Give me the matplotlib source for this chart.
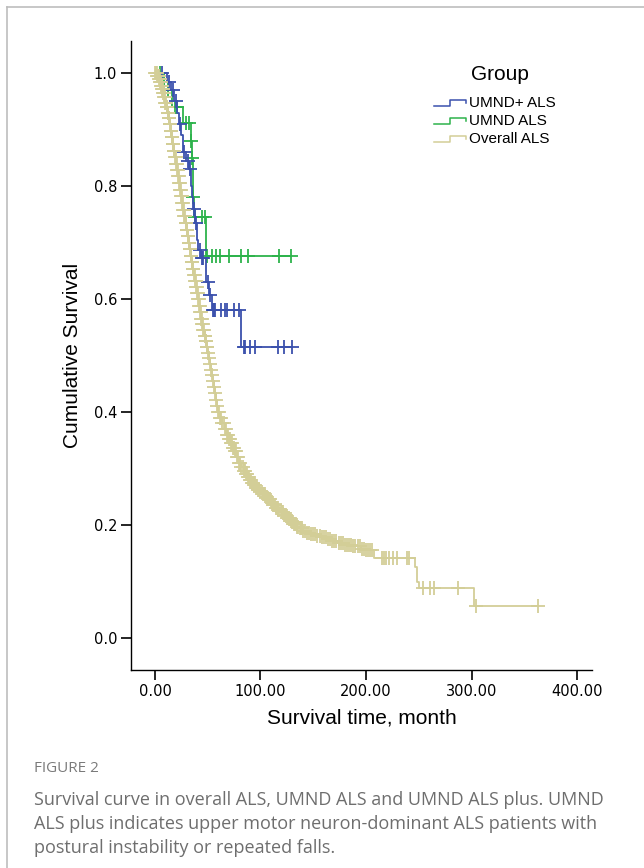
import numpy as np
import matplotlib.pyplot as plt
from matplotlib.lines import Line2D
from matplotlib.legend_handler import HandlerBase

# Kaplan-Meier steps (time in months, cumulative survival)
umnd_plus_t = [0, 11, 15, 18, 21, 23, 25, 27, 29, 32, 34, 35, 36, 38, 40, 41, 44, 48, 51, 54, 82]
umnd_plus_s = [1.0, 0.985, 0.97, 0.95, 0.93, 0.91, 0.89, 0.86, 0.845, 0.83, 0.80, 0.78, 0.76,
               0.735, 0.705, 0.687, 0.672, 0.63, 0.607, 0.58, 0.515]
umnd_plus_cens = [7, 13, 17, 20, 24, 28, 31, 33, 37, 39, 43, 45, 46, 50, 52, 55, 56, 57, 63,
                  66, 68, 75, 80, 84, 85, 90, 95, 117, 122, 130]

umnd_t = [0, 9, 16, 27, 34, 35, 36, 37, 48]
umnd_s = [1.0, 0.97, 0.94, 0.912, 0.88, 0.85, 0.78, 0.745, 0.676]
umnd_cens = [5, 12, 19, 21, 29, 32, 34, 35, 36, 38, 45, 47, 49, 54, 58, 62, 70, 82, 88, 118, 129]

overall_t = [0, 2, 4, 5, 6, 7, 8, 9, 10, 11, 12, 13, 14, 15, 16, 17, 18, 19, 20, 21, 22, 23,
             24, 25, 26, 27, 28, 29, 30, 31, 32, 33, 34, 35, 36, 37, 38, 39, 40, 41, 42, 43,
             44, 45, 46, 47, 48, 49, 50, 51, 52, 53, 54, 55, 56, 57, 58, 59, 60, 62, 64, 66,
             68, 70, 72, 74, 76, 78, 80, 82, 84, 86, 88, 90, 92, 94, 96, 98, 100, 102, 105,
             107, 110, 112, 115, 117, 120, 122, 125, 127, 130, 132, 135, 137, 140, 144, 148,
             153, 158, 163, 168, 174, 180, 187, 195, 200, 208, 246, 248, 250, 302]
overall_s = [1.0, 0.995, 0.99, 0.985, 0.978, 0.972, 0.965, 0.957, 0.948, 0.94, 0.93, 0.92,
             0.91, 0.898, 0.887, 0.875, 0.863, 0.852, 0.84, 0.828, 0.817, 0.805, 0.793, 0.782,
             0.77, 0.758, 0.747, 0.735, 0.723, 0.712, 0.70, 0.688, 0.677, 0.665, 0.654, 0.643,
             0.632, 0.621, 0.61, 0.60, 0.588, 0.577, 0.565, 0.555, 0.545, 0.535, 0.525, 0.515,
             0.505, 0.495, 0.485, 0.475, 0.465, 0.455, 0.445, 0.434, 0.422, 0.411, 0.40, 0.39,
             0.38, 0.37, 0.36, 0.352, 0.345, 0.337, 0.33, 0.32, 0.31, 0.302, 0.295, 0.29, 0.285,
             0.28, 0.275, 0.27, 0.265, 0.261, 0.258, 0.255, 0.25, 0.246, 0.24, 0.236, 0.23,
             0.227, 0.222, 0.218, 0.213, 0.21, 0.205, 0.202, 0.197, 0.194, 0.19, 0.186, 0.183,
             0.18, 0.178, 0.175, 0.172, 0.168, 0.165, 0.162, 0.158, 0.155, 0.142, 0.126, 0.099,
             0.088, 0.057]
overall_cens = [0.5, 1, 1.5, 2, 2.5, 3, 3.5, 4, 4.5, 5, 5.5, 6, 6.5, 7, 7.5, 8, 8.5, 9, 9.5, 10,
                10.5, 11, 11.5, 12, 12.5, 13, 13.5, 14, 14.5, 15, 15.5, 16, 16.5, 17, 17.5, 18,
                18.5, 19, 19.5, 20, 20.5, 21, 21.5, 22, 22.5, 23, 23.5, 24, 24.5, 25, 25.5, 26,
                26.5, 27, 27.5, 28, 28.5, 29, 29.5, 30, 30.5, 31, 31.5, 32, 32.5, 33, 33.5, 34,
                34.5, 35, 35.5, 36, 36.5, 37, 37.5, 38, 38.5, 39, 39.5, 40, 40.5, 41, 41.5, 42,
                42.5, 43, 43.5, 44, 44.5, 45, 45.5, 46, 46.5, 47, 47.5, 48, 48.5, 49, 49.5, 50,
                51, 52, 53, 54, 55, 56, 57, 58, 59, 60, 61, 62, 63, 64, 65, 66, 67, 68, 69, 70,
                71, 72, 73, 74, 75, 76, 77, 78, 79, 80, 81, 82, 83, 84, 85, 86, 87, 88, 89, 90,
                91, 92, 93, 94, 95, 96, 97, 98, 99, 100, 101, 102, 103, 104, 105, 106, 107, 108,
                109, 110, 111, 112, 113, 114, 115, 116, 117, 118, 119, 120, 121, 122, 123, 124,
                125, 126, 127, 128, 129, 130, 131, 132, 133, 134, 135, 136, 137, 138, 139, 140,
                142, 144, 146, 148, 150, 152, 154, 156, 158, 160, 162, 164, 166, 168, 170, 172,
                174, 176, 178, 180, 182, 184, 186, 188, 190, 192, 194, 196, 198, 200, 202, 204,
                206, 215, 217, 219, 222, 226, 229, 239, 241, 254, 261, 264, 287, 304, 363]

groups = ['UMND+ ALS', 'UMND ALS', 'Overall ALS']
colors = ['#3b51ad', '#2db34b', '#d3ce97']


class StepHandler(HandlerBase):
    def create_artists(self, legend, orig_handle, xdescent, ydescent, width, height, fontsize, trans):
        x0 = -xdescent
        y0 = -ydescent + height * 0.1
        h = height * 0.55
        xs = [x0, x0 + width * 0.5, x0 + width * 0.5, x0 + width, x0 + width]
        ys = [y0, y0, y0 + h, y0 + h, y0 + h * 0.45]
        ln = Line2D(xs, ys, color=orig_handle.get_color(), lw=1.1, transform=trans)
        return [ln]


fig = plt.figure(figsize=(6.44, 8.68), dpi=100)
ax = fig.add_axes([0.2034, 0.2281, 0.7156, 0.7247])

series = [(umnd_plus_t, umnd_plus_s, umnd_plus_cens),
          (umnd_t, umnd_s, umnd_cens),
          (overall_t, overall_s, overall_cens)]

handles = []
for (t, s, c), col, name, z in zip(series, colors, groups, [3, 2, 4]):
    t = np.array(t, float)
    s = np.array(s, float)
    c = np.array(c, float)
    tt = np.append(t, c.max())
    ss = np.append(s, s[-1])
    ax.step(tt, ss, where='post', color=col, lw=1.3, zorder=z)
    idx = np.searchsorted(t, c, side='right') - 1
    ax.plot(c, s[idx], ls='none', marker='+', ms=9.5, mew=1.3, color=col, zorder=z)
    handles.append(Line2D([], [], color=col))

ax.set_xlim(-22.7, 414)
ax.set_ylim(-0.057, 1.057)
ax.set_xticks([0, 100, 200, 300, 400])
ax.set_xticklabels(['0.00', '100.00', '200.00', '300.00', '400.00'])
ax.set_yticks([0.0, 0.2, 0.4, 0.6, 0.8, 1.0])
ax.set_yticklabels(['0.0', '0.2', '0.4', '0.6', '0.8', '1.0'])
for sp in ['top', 'right']:
    ax.spines[sp].set_visible(False)
for sp in ['left', 'bottom']:
    ax.spines[sp].set_linewidth(1.0)
ax.tick_params(axis='both', direction='out', length=7, width=1.2, labelsize=10.5, pad=3)
ax.set_ylabel('Cumulative Survival', fontsize=15, family='Liberation Sans', labelpad=8)
ax.set_xlabel('Survival time, month', fontsize=15, family='Liberation Sans', labelpad=7)

# legend: title as separate text, entries below
ax.text(500 / 644, 1 - 74 / 868, 'Group', transform=fig.transFigure, fontsize=15,
        family='Liberation Sans', ha='center', va='center')
leg = ax.legend(handles, groups, handler_map={Line2D: StepHandler()},
                loc='upper left', bbox_to_anchor=(434 / 644, 1 - 96 / 868),
                bbox_transform=fig.transFigure, frameon=False,
                prop={'family': 'Liberation Sans', 'size': 11},
                handlelength=2.1, handletextpad=0.2, labelspacing=0.25, borderaxespad=0,
                borderpad=0)

# panel border (top and left edges)
fig.add_artist(Line2D([7 / 644, 1], [1 - 7 / 868, 1 - 7 / 868], color='#bdbdbd', lw=1.2))
fig.add_artist(Line2D([7 / 644, 7 / 644], [0, 1 - 7 / 868], color='#bdbdbd', lw=1.2))

fig.text(34 / 644, 1 - 768 / 868, 'FIGURE 2', fontsize=11, color='#7a7a7a',
         family='Open Sans', va='center')
caption = ['Survival curve in overall ALS, UMND ALS and UMND ALS plus. UMND',
           'ALS plus indicates upper motor neuron-dominant ALS patients with',
           'postural instability or repeated falls.']
for i, line in enumerate(caption):
    fig.text(34 / 644, 1 - (800 + 24 * i) / 868, line, fontsize=12.95, color='#6e6e6e',
             family='Open Sans', va='center')

fig.savefig('out.png', dpi=100)
